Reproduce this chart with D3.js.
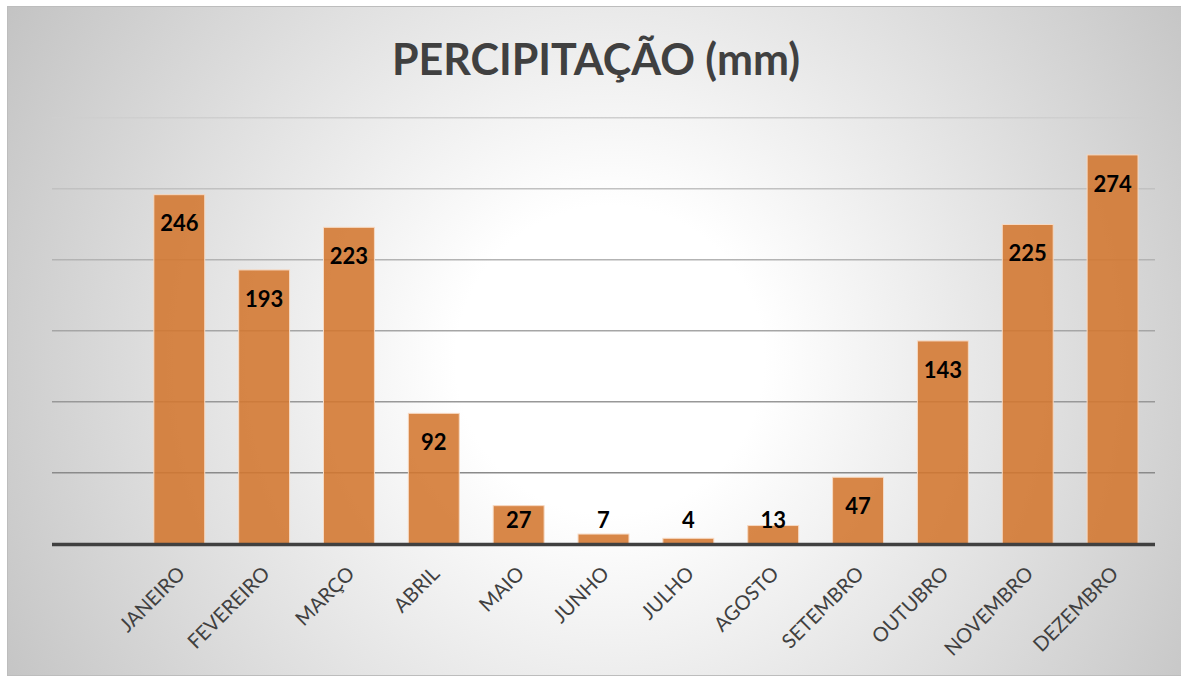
<!DOCTYPE html>
<html>
<head>
<meta charset="utf-8">
<script src="https://cdn.jsdelivr.net/npm/d3@7"></script>
<style>
	html, body { margin: 0; padding: 0; background: #fff; }
	svg { display: block; }
	.label { font-family: Lato, "Open Sans", sans-serif; }
</style>
</head>
<body>
<svg id="chart"></svg>
<script>
var title = "PERCIPITAÇÃO (mm)";
var months = ["JANEIRO", "FEVEREIRO", "MARÇO", "ABRIL", "MAIO", "JUNHO", "JULHO", "AGOSTO", "SETEMBRO", "OUTUBRO", "NOVEMBRO", "DEZEMBRO"];
var rainfall = [246, 193, 223, 92, 27, 7, 4, 13, 47, 143, 225, 274];
var gridTicks = [50, 100, 150, 200, 250, 300];

var width = 1181, height = 677;
var plot = {left: 52, right: 1155, top: 118, bottom: 544};

var svg = d3.select("#chart")
	.attr("width", width)
	.attr("height", height);

var defs = svg.append("defs");

var bg = defs.append("radialGradient")
	.attr("id", "bg")
	.attr("gradientUnits", "userSpaceOnUse")
	.attr("cx", 610).attr("cy", 360).attr("r", 700);
bg.append("stop").attr("offset", 0.22).attr("stop-color", "#ffffff");
bg.append("stop").attr("offset", 1).attr("stop-color", "#c3c3c3");

// gridlines get darker towards the axis
var gridGrad = defs.append("linearGradient")
	.attr("id", "grid")
	.attr("gradientUnits", "userSpaceOnUse")
	.attr("x1", 0).attr("y1", plot.top - 2)
	.attr("x2", 0).attr("y2", plot.bottom - 70);
gridGrad.append("stop").attr("offset", 0).attr("stop-color", "#cfcfcf");
gridGrad.append("stop").attr("offset", 1).attr("stop-color", "#8a8a8a");

svg.append("rect")
	.attr("x", 7.5).attr("y", 6.5)
	.attr("width", width - 6).attr("height", 669)
	.attr("fill", "url(#bg)")
	.attr("stroke", "#bdbdbd")
	.attr("stroke-width", 1);

svg.append("text")
	.attr("class", "label")
	.attr("x", 596)
	.attr("y", 75)
	.attr("text-anchor", "middle")
	.attr("font-size", 43)
	.attr("font-weight", "bold")
	.attr("fill", "#404040")
	.text(title);

// first band is left empty, like the original plot area
var step = (plot.right - plot.left) / (months.length + 1);
var x = d3.scaleBand()
	.domain(months)
	.range([plot.left + step, plot.right])
	.paddingInner(0.4)
	.paddingOuter(0.2);

var y = d3.scaleLinear()
	.domain([0, 300])
	.range([plot.bottom, plot.top]);

svg.append("g")
	.selectAll("rect")
	.data(gridTicks)
	.enter().append("rect")
	.attr("x", plot.left)
	.attr("y", function(d) { return Math.round(y(d)) - 1; })
	.attr("width", plot.right - plot.left)
	.attr("height", 1.5)
	.attr("fill", "url(#grid)");

svg.append("g")
	.selectAll("rect")
	.data(rainfall)
	.enter().append("rect")
	.attr("x", function(d, i) { return x(months[i]); })
	.attr("y", function(d) { return y(d); })
	.attr("width", x.bandwidth())
	.attr("height", function(d) { return y(0) - y(d); })
	.attr("fill", "#d3762f")
	.attr("fill-opacity", 0.88)
	.attr("stroke", "#f7d9c2")
	.attr("stroke-width", 1);

var axis = svg.append("g")
	.attr("transform", "translate(0," + plot.bottom + ")")
	.call(d3.axisBottom(x).tickSize(0).tickPadding(0));
axis.select(".domain").remove();
axis.append("line")
	.attr("x1", plot.left).attr("x2", plot.right)
	.attr("y1", 0.5).attr("y2", 0.5)
	.attr("stroke", "#404040")
	.attr("stroke-width", 3.5);
axis.selectAll(".tick text")
	.attr("class", "label")
	.attr("font-size", 20)
	.attr("fill", "#404040")
	.attr("text-anchor", "end")
	.attr("dy", "0.35em")
	.attr("transform", "translate(2,26) rotate(-45)");

svg.append("g")
	.selectAll("text")
	.data(rainfall)
	.enter().append("text")
	.attr("class", "label")
	.attr("x", function(d, i) { return x(months[i]) + x.bandwidth() / 2; })
	.attr("y", function(d) { return Math.min(y(d) + 29, 520); })
	.attr("dy", "0.35em")
	.attr("text-anchor", "middle")
	.attr("font-size", 22)
	.attr("font-weight", "bold")
	.attr("fill", "#000")
	.text(function(d) { return d; });
</script>
</body>
</html>
